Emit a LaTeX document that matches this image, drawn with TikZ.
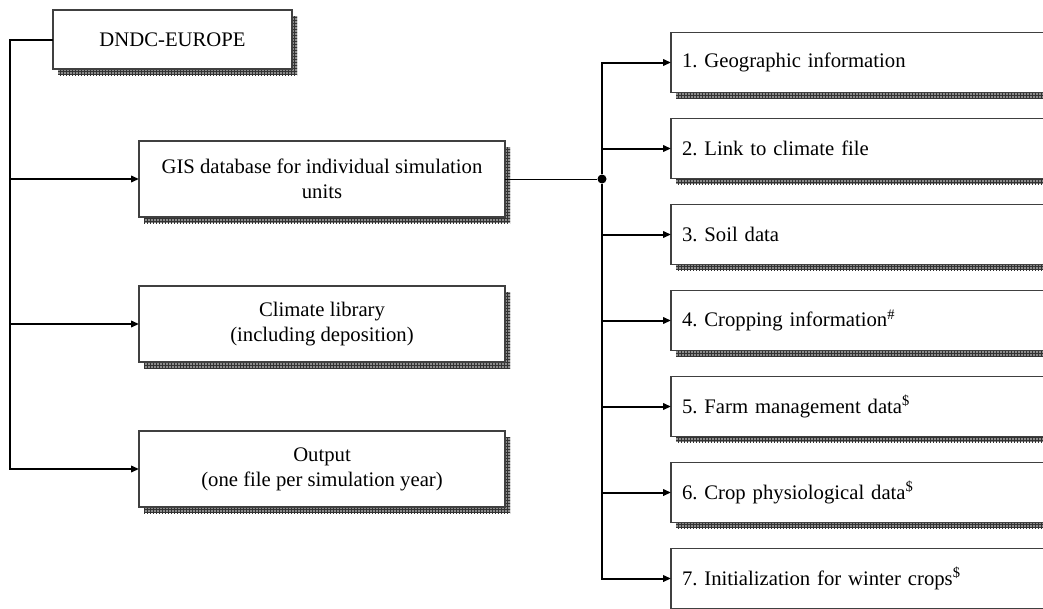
\documentclass[tikz,border=0pt]{standalone}
\usepackage{fontspec}
\setmainfont{Liberation Serif}
\frenchspacing
\usetikzlibrary{positioning,shadows,patterns,arrows.meta}

\begin{document}
\begin{tikzpicture}[x=1pt,y=-1pt,
    font=\fontsize{20.7}{25}\selectfont,
    box/.style={draw=black!75, line width=1.2pt, fill=white, inner sep=0pt, outer sep=0pt,
      drop shadow={shadow xshift=5pt, shadow yshift=-6pt, fill=black!45, opacity=1},
      drop shadow={shadow xshift=5pt, shadow yshift=-6pt, pattern=grid, pattern color=black!80, opacity=1}},
    unit/.style={box, minimum width=366pt, minimum height=76pt, align=center},
    item/.style={box, text width=398pt, inner xsep=11pt, minimum height=59.5pt, align=left},
    link/.style={line width=1pt},
    arrow/.style={line width=2pt, -{Triangle[length=8pt,width=6.5pt]}},
    hubdot/.style={circle, fill=black, inner sep=0pt, minimum size=9pt}]
        \useasboundingbox (0,0) rectangle (1043,608);
        \clip (0,0) rectangle (1043,608);

        %% left column
        \node (dndc)[box, minimum width=239pt, minimum height=59pt] at (172.5,39.5) {DNDC-EUROPE};
        \node (gis)[unit] at (322,179) {GIS database for individual simulation\\units};
        \node (climate)[unit, below=69pt of gis] {Climate library\\(including deposition)};
        \node (output)[unit, below=69pt of climate] {Output\\(one file per simulation year)};

        %% right column
        \node (geo)[item, anchor=west] at (671,62.5) {1. Geographic information};
        \node (climfile)[item, below=26.5pt of geo] {2. Link to climate file};
        \node (soil)[item, below=26.5pt of climfile] {3. Soil data};
        \node (crop)[item, below=26.5pt of soil] {4. Cropping information\textsuperscript{\#}};
        \node (farm)[item, below=26.5pt of crop] {5. Farm management data\textsuperscript{\$}};
        \node (phys)[item, below=26.5pt of farm] {6. Crop physiological data\textsuperscript{\$}};
        \node (winter)[item, below=26.5pt of phys] {7. Initialization for winter crops\textsuperscript{\$}};

        \coordinate (trunk) at ([xshift=-43pt]dndc.west);
        \node (hub)[hubdot] at ([xshift=97pt]gis.east) {};

        \draw[arrow] (dndc.west) -- (trunk) |- (output.west);
        \draw[arrow] (trunk |- gis.west) -- (gis.west);
        \draw[arrow] (trunk |- climate.west) -- (climate.west);

        \draw[link] (gis.east) -- (hub);
        \draw[arrow] (hub) |- (geo.west);
        \draw[arrow] (hub) |- (winter.west);
        \draw[arrow] (hub |- climfile.west) -- (climfile.west);
        \draw[arrow] (hub |- soil.west) -- (soil.west);
        \draw[arrow] (hub |- crop.west) -- (crop.west);
        \draw[arrow] (hub |- farm.west) -- (farm.west);
        \draw[arrow] (hub |- phys.west) -- (phys.west);

      \end{tikzpicture}
\end{document}
